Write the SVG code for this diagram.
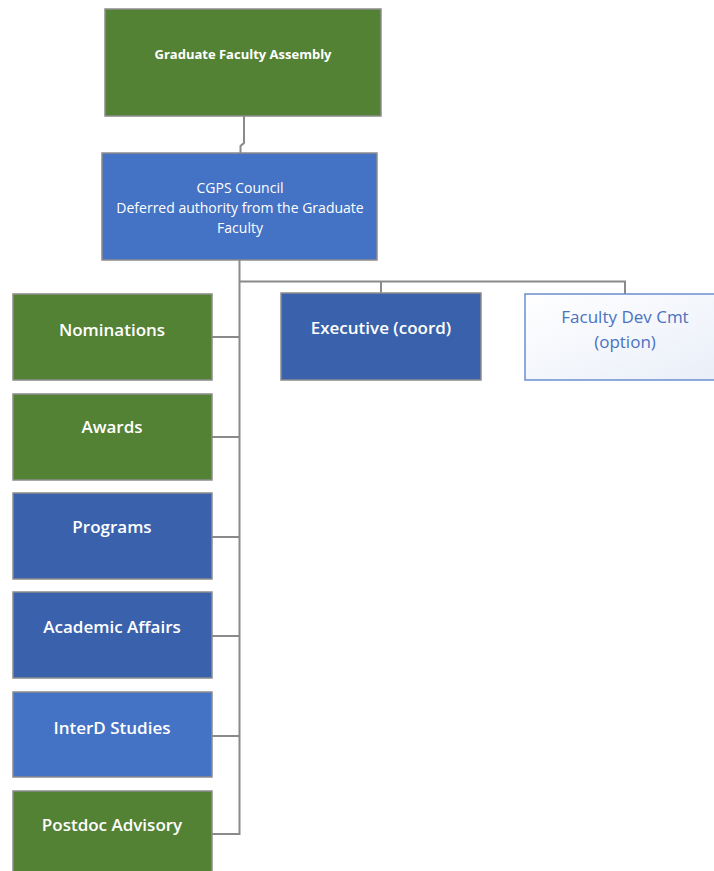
<svg xmlns="http://www.w3.org/2000/svg" width="714" height="871" viewBox="0 0 714 871">
<defs>
<linearGradient id="lg" x1="0" y1="0" x2="1" y2="1">
<stop offset="0" stop-color="#ffffff"/>
<stop offset="1" stop-color="#e9eef8"/>
</linearGradient>
</defs>
<style>
.box{stroke:#8c8c8c;stroke-width:1.5}
.green{fill:#548235}
.blue{fill:#4472C4}
.dblue{fill:#3A62AC}
.light{fill:url(#lg);stroke:#6a8fd0;stroke-width:1.5}
.t{font-family:"Open Sans","Liberation Sans",sans-serif;font-size:17px;font-weight:600;fill:#ffffff;text-anchor:middle}
.ts{font-family:"Open Sans","Liberation Sans",sans-serif;font-size:14px;fill:#ffffff;text-anchor:middle}
.tg{font-size:13px;font-weight:bold}
.tb{fill:#4a72c0;font-weight:500}
.conn{fill:none;stroke:#8a8a8a;stroke-width:2}
</style>
<rect width="714" height="871" fill="#ffffff"/>
<g id="connectors">
<path class="conn" d="M244 116 V143 L240.5 146 V153"/>
<path class="conn" d="M239.5 260 V834 H212"/>
<path class="conn" d="M239.5 281.5 H625 V294"/>
<path class="conn" d="M381 281.5 V293"/>
<path class="conn" d="M212 337 H239.5"/>
<path class="conn" d="M212 437 H239.5"/>
<path class="conn" d="M212 537 H239.5"/>
<path class="conn" d="M212 636 H239.5"/>
<path class="conn" d="M212 736 H239.5"/>
</g>
<g id="gfa">
<rect class="box green" x="105" y="9" width="276" height="107"/>
<text class="ts tg" x="243" y="59">Graduate Faculty Assembly</text>
</g>
<g id="council">
<rect class="box blue" x="102" y="153" width="275" height="107"/>
<text class="ts" x="240" y="193">CGPS Council</text>
<text class="ts" x="240" y="213">Deferred authority from the Graduate</text>
<text class="ts" x="240" y="233">Faculty</text>
</g>
<g id="executive">
<rect class="box dblue" x="281" y="293" width="200" height="87"/>
<text class="t" x="381" y="334">Executive (coord)</text>
</g>
<g id="facdev">
<rect class="light" x="525" y="294" width="200" height="86"/>
<text class="t tb" x="625" y="323">Faculty Dev Cmt</text>
<text class="t tb" x="625" y="348">(option)</text>
</g>
<g id="nominations">
<rect class="box green" x="13" y="294" width="199" height="86"/>
<text class="t" x="112" y="336">Nominations</text>
</g>
<g id="awards">
<rect class="box green" x="13" y="394" width="199" height="86"/>
<text class="t" x="112" y="433">Awards</text>
</g>
<g id="programs">
<rect class="box dblue" x="13" y="493" width="199" height="86"/>
<text class="t" x="112" y="533">Programs</text>
</g>
<g id="academic">
<rect class="box dblue" x="13" y="592" width="199" height="86"/>
<text class="t" x="112" y="633">Academic Affairs</text>
</g>
<g id="interd">
<rect class="box blue" x="13" y="692" width="199" height="85"/>
<text class="t" x="112" y="734">InterD Studies</text>
</g>
<g id="postdoc">
<rect class="box green" x="13" y="791" width="199" height="90"/>
<text class="t" x="112" y="831">Postdoc Advisory</text>
</g>
</svg>
